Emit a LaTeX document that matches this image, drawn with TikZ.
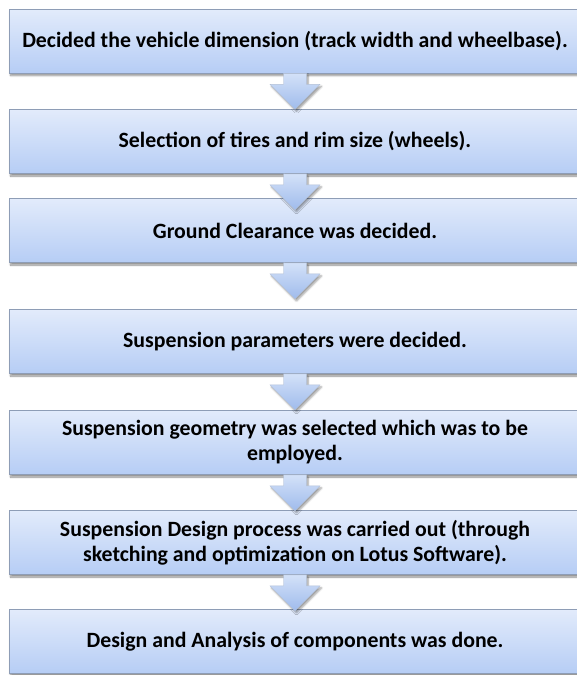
\documentclass[tikz,border=0pt]{standalone}
\usepackage{fontspec}
\setmainfont{Carlito}
\usetikzlibrary{shadows.blur}
\definecolor{boxtop}{HTML}{E2EBFB}
\definecolor{boxbot}{HTML}{B6CDF5}
\definecolor{boxline}{HTML}{8E9DB6}
\definecolor{arrtop}{HTML}{D3E1F8}
\definecolor{arrbot}{HTML}{9FBBEC}
\tikzset{
  stage/.style={draw=boxline, line width=0.8pt, top color=boxtop, bottom color=boxbot,
    minimum width=572pt, minimum height=64pt, inner sep=0pt, align=center,
    font=\fontsize{21.8}{25}\selectfont\bfseries,
    blur shadow={shadow xshift=1.5pt, shadow yshift=-2.5pt, shadow blur steps=6, shadow opacity=45}},
  flowarrow/.style={draw=arrbot!80!black!60, line width=0.4pt, top color=arrtop, bottom color=arrbot,
    blur shadow={shadow xshift=1.5pt, shadow yshift=-2pt, shadow blur steps=5, shadow opacity=40}}
}
% block arrow hanging below a stage box
\newcommand{\downarrowfrom}[1]{%
  \path[flowarrow] ([xshift=-11.5pt]#1.south) -- ++(0,11) -- ++(-13.5,0)
    -- ([yshift=-36pt]#1.south) -- ([xshift=25pt,yshift=-11pt]#1.south)
    -- ++(-13.5,0) -- ([xshift=11.5pt]#1.south) -- cycle;}
\begin{document}
\begin{tikzpicture}[x=1pt, y=-1pt]
  \useasboundingbox (0,0) rectangle (577,675);
  \clip (0,0) rectangle (577,675);
  \node[stage] (s1) at (295,41) {Decided the vehicle dimension (track width and wheelbase).};
  \node[stage] (s2) at (295,141.5) {Selection of tires and rim size (wheels).};
  \node[stage] (s3) at (295,230.5) {Ground Clearance was decided.};
  \node[stage] (s4) at (295,341.5) {Suspension parameters were decided.};
  \node[stage] (s5) at (295,442.5) {Suspension geometry was selected which was to be\\employed.};
  \node[stage] (s6) at (295,542.5) {Suspension Design process was carried out (through\\sketching and optimization on Lotus Software).};
  \node[stage] (s7) at (295,641.5) {Design and Analysis of components was done.};
  \downarrowfrom{s1}
  \downarrowfrom{s2}
  \downarrowfrom{s3}
  \downarrowfrom{s4}
  \downarrowfrom{s5}
  \downarrowfrom{s6}
\end{tikzpicture}
\end{document}
